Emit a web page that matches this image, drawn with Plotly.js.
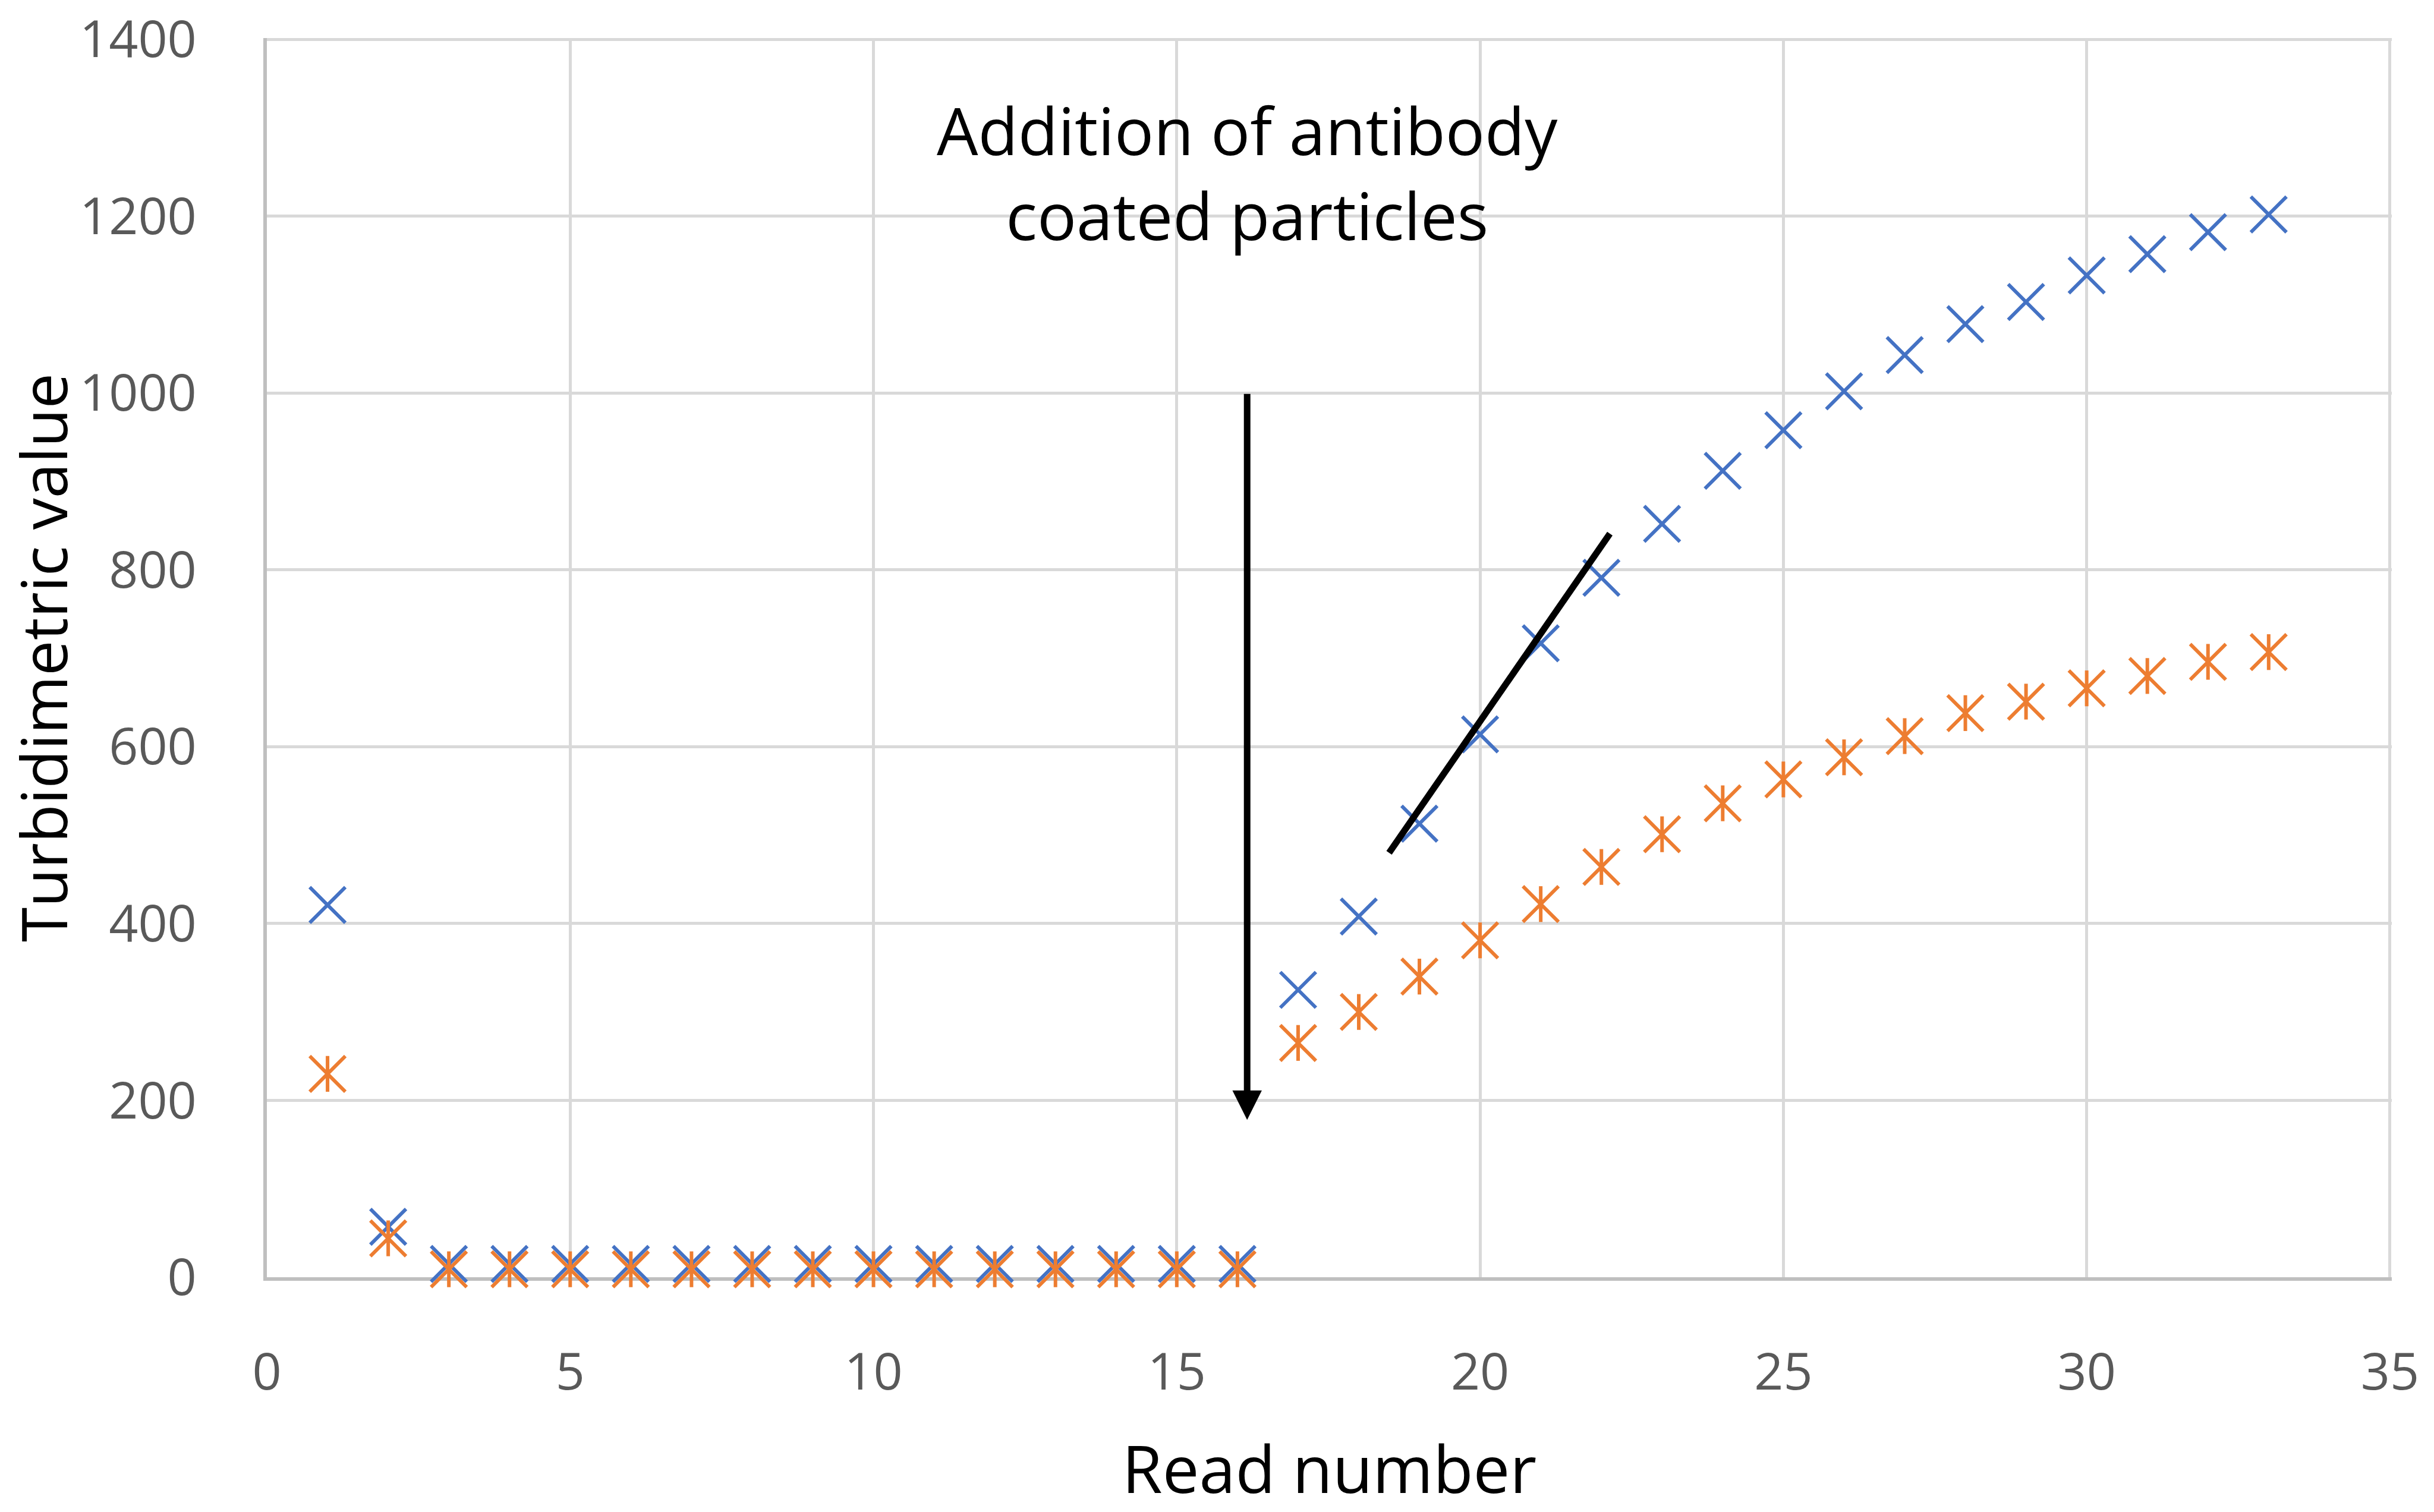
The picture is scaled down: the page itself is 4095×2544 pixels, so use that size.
<!DOCTYPE html>
<html>
<head>
<meta charset="utf-8">
<script src="https://cdn.plot.ly/plotly-3.0.1.min.js"></script>
<style>
  html, body { margin: 0; padding: 0; background: #fff; }
  #chart { width: 4095px; height: 2544px; }
</style>
</head>
<body>
<div id="chart"></div>
<script>
// read numbers 1..33
let readNumber = [];
for (let i = 1; i <= 33; i++) readNumber.push(i);

// blue "x" series
let seriesBlue = [421, 57, 15, 15, 15, 15, 15, 15, 15, 15, 15, 15, 15, 15, 15, 15,
    325, 408, 513, 614, 717, 791, 852, 912, 958, 1002, 1043, 1078, 1103, 1133, 1157, 1182, 1202];

// orange "*" series
let seriesOrange = [230, 44, 9, 9, 9, 9, 9, 9, 9, 9, 9, 9, 9, 9, 9, 9,
    265, 300, 340, 381, 422, 464, 501, 536, 563, 588, 612, 638, 651, 666, 680, 696, 707];

// axis ticks
let xTicks = [0, 5, 10, 15, 20, 25, 30, 35];
let yTicks = [0, 200, 400, 600, 800, 1000, 1200, 1400];

// hand drawn tangent and the arrow marking the antibody addition
let tangentX = [18.5, 22.14];
let tangentY = [480, 841];
let arrowX = 16.16;
let arrowFrom = 1000;
let arrowTo = 178;
let noteText = 'Addition of antibody<br>coated particles';
let noteY = 1250;

const blue = '#4472C4';
const orange = '#ED7D31';

var trace_blue = {
    type: 'scatter',
    mode: 'markers',
    x: readNumber,
    y: seriesBlue,
    cliponaxis: false,
    marker: {
        symbol: 'x-thin-open',
        size: 60,
        color: blue,
        line: {color: blue, width: 6},
    },
};

// excel star marker = x plus a vertical stroke
var trace_orange_x = {
    type: 'scatter',
    mode: 'markers',
    x: readNumber,
    y: seriesOrange,
    cliponaxis: false,
    marker: {
        symbol: 'x-thin-open',
        size: 60,
        color: orange,
        line: {color: orange, width: 6},
    },
};

var trace_orange_v = {
    type: 'scatter',
    mode: 'markers',
    x: readNumber,
    y: seriesOrange,
    cliponaxis: false,
    marker: {
        symbol: 'line-ns-open',
        size: 43,
        color: orange,
        line: {color: orange, width: 6},
    },
};

var trace_tangent = {
    type: 'scatter',
    mode: 'lines',
    x: tangentX,
    y: tangentY,
    line: {color: '#000', width: 11},
};

var layout = {
    width: 4095,
    height: 2544,
    margin: {l: 449, r: 71, t: 64, b: 395},
    paper_bgcolor: '#fff',
    plot_bgcolor: '#fff',
    showlegend: false,
    font: {family: '"Open Sans", "Noto Sans", sans-serif', color: '#595959'},
    xaxis: {
        // a hair past 35 so the edge grid line is still drawn
        range: [0, 35.03],
        tickmode: 'array',
        tickvals: xTicks,
        showgrid: true,
        gridcolor: '#d9d9d9',
        gridwidth: 5,
        zeroline: false,
        showline: true,
        linecolor: '#bfbfbf',
        linewidth: 6,
        layer: 'below traces',
        ticks: '',
        ticklabelstandoff: 80,
        ticklabeloverflow: 'allow',
        tickfont: {size: 86, color: '#595959'},
        title: {
            text: 'Read number',
            font: {size: 110, color: '#000'},
            standoff: 105,
        },
        automargin: false,
    },
    yaxis: {
        range: [0, 1401.5],
        tickmode: 'array',
        tickvals: yTicks,
        showgrid: true,
        gridcolor: '#d9d9d9',
        gridwidth: 5,
        zeroline: false,
        showline: true,
        linecolor: '#bfbfbf',
        linewidth: 6,
        layer: 'below traces',
        ticks: '',
        ticklabelstandoff: 95,
        ticklabeloverflow: 'allow',
        tickfont: {size: 86, color: '#595959'},
        title: {
            text: 'Turbidimetric value',
            font: {size: 106, color: '#000'},
            standoff: 40,
        },
        automargin: false,
    },
    annotations: [
        {
            x: arrowX, y: noteY,
            xref: 'x', yref: 'y',
            text: noteText,
            showarrow: false,
            font: {size: 110, color: '#000'},
            xanchor: 'center',
            yanchor: 'middle',
        },
        {
            x: arrowX, y: arrowTo,
            ax: arrowX, ay: arrowFrom,
            xref: 'x', yref: 'y',
            axref: 'x', ayref: 'y',
            text: '',
            showarrow: true,
            arrowhead: 2,
            arrowsize: 0.9,
            arrowwidth: 11,
            arrowcolor: '#000',
        },
    ],
};

var config = {staticPlot: true};

Plotly.newPlot('chart', [trace_blue, trace_orange_x, trace_orange_v, trace_tangent], layout, config);
</script>
</body>
</html>
